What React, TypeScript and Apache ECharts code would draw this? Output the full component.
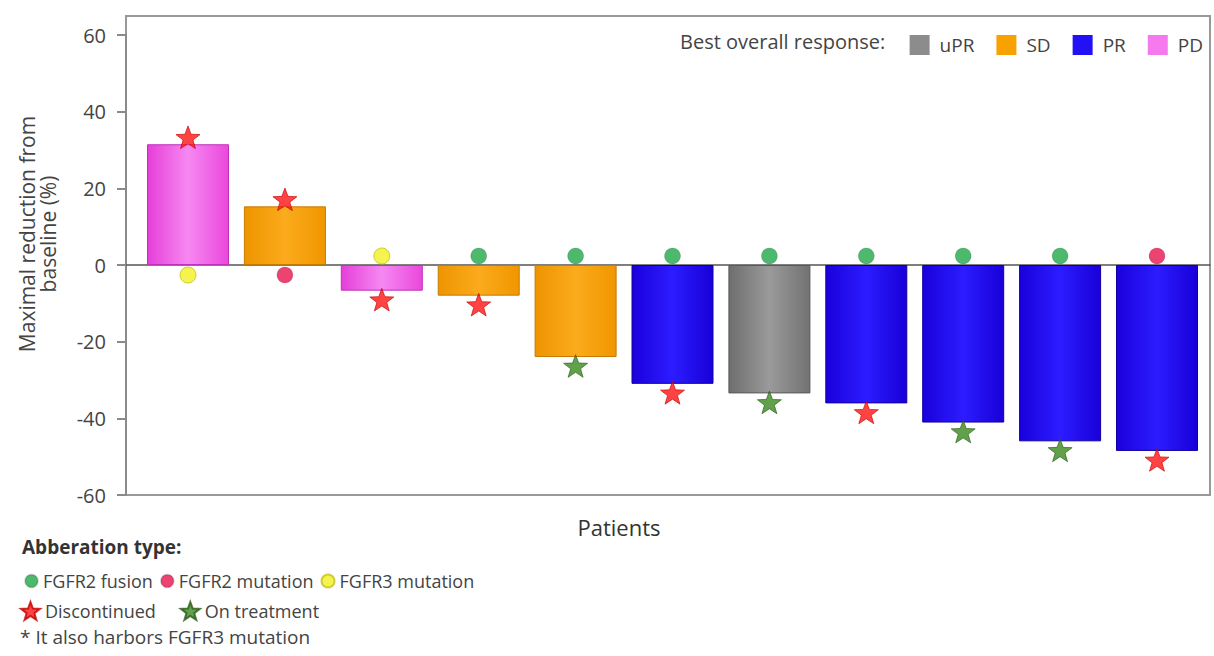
import React, { useEffect, useRef } from "react";
import * as echarts from "echarts";

const patients = ["P1", "P2", "P3", "P4", "P5", "P6", "P7", "P8", "P9", "P10", "P11"];
const reductions = [31.5, 15.3, -6.7, -8.0, -24.0, -31.0, -33.5, -36.1, -41.1, -46.0, -48.5];
const responses = ["PD", "SD", "PD", "SD", "SD", "PR", "uPR", "PR", "PR", "PR", "PR"];
const aberrations = [
  "FGFR3 mutation", "FGFR2 mutation", "FGFR3 mutation", "FGFR2 fusion", "FGFR2 fusion",
  "FGFR2 fusion", "FGFR2 fusion", "FGFR2 fusion", "FGFR2 fusion", "FGFR2 fusion", "FGFR2 mutation",
];
const statuses = [
  "Discontinued", "Discontinued", "Discontinued", "Discontinued", "On treatment",
  "Discontinued", "On treatment", "Discontinued", "On treatment", "On treatment", "Discontinued",
];
const responseNames = ["uPR", "SD", "PR", "PD"];
const aberrationNames = ["FGFR2 fusion", "FGFR2 mutation", "FGFR3 mutation"];
const statusNames = ["Discontinued", "On treatment"];
const yTicks = { min: -60, max: 60, interval: 20 };

const FONT = "'Open Sans', 'Noto Sans', sans-serif";
const STAR =
  "path://M12,0.5 L14.9,8.4 L23.4,8.7 L16.7,13.9 L19.1,22 L12,17.3 L4.9,22 L7.3,13.9 L0.6,8.7 L9.1,8.4 Z";

const responseColors: Record<string, [string, string, string]> = {
  uPR: ["#6e6e6e", "#9a9a9a", "#727272"],
  SD: ["#ee9400", "#fbab1c", "#f09600"],
  PR: ["#1a00dc", "#2c1cff", "#1800d8"],
  PD: ["#e53fd8", "#f688f2", "#ea48dc"],
};
const responseSolid: Record<string, string> = {
  uPR: "#8c8c8c",
  SD: "#f8a200",
  PR: "#2410f4",
  PD: "#f57aee",
};
const responseBorders: Record<string, string> = {
  uPR: "#5a5a5a",
  SD: "#c87a00",
  PR: "#1000a0",
  PD: "#c030b8",
};
const aberrationColors: Record<string, string> = {
  "FGFR2 fusion": "#1fa848",
  "FGFR2 mutation": "#e8144e",
  "FGFR3 mutation": "#f2f020",
};
const statusColors: Record<string, string> = {
  Discontinued: "#ff1414",
  "On treatment": "#3a8a1e",
};

export default function App() {
  const ref = useRef<HTMLDivElement>(null);
  useEffect(() => {
    if (!ref.current) return;
    const chart = echarts.init(ref.current, null, { renderer: "svg" });

    const barSeries = responseNames.map((name) => {
      const c = responseColors[name];
      return {
        name,
        type: "bar",
        barWidth: 82,
        barGap: "-100%",
        z: 2,
        itemStyle: {
          color: new echarts.graphic.LinearGradient(0, 0, 1, 0, [
            { offset: 0, color: c[0] },
            { offset: 0.5, color: c[1] },
            { offset: 1, color: c[2] },
          ]),
          borderColor: responseBorders[name],
          borderWidth: 1,
        },
        data: patients
          .map((_, i) => (responses[i] === name ? [i, reductions[i]] : null))
          .filter((d) => d !== null),
      };
    });

    const circleSeries = aberrationNames.map((name) => ({
      name,
      type: "scatter",
      symbol: "circle",
      symbolSize: 16,
      z: 5,
      itemStyle: {
        color: aberrationColors[name],
        borderColor: name === "FGFR3 mutation" ? "#c8c020" : "rgba(0,0,0,0.15)",
        borderWidth: 1,
      },
      data: patients
        .map((_, i) =>
          aberrations[i] === name
            ? { value: [i, 0], symbolOffset: [0, reductions[i] < 0 ? -9 : 10] }
            : null
        )
        .filter((d) => d !== null),
    }));

    const starSeries = statusNames.map((name) => ({
      name,
      type: "scatter",
      symbol: STAR,
      symbolSize: 24,
      symbolKeepAspect: true,
      z: 6,
      itemStyle: {
        color: statusColors[name],
        borderColor: name === "Discontinued" ? "#c00000" : "#2a5a16",
        borderWidth: 0.8,
      },
      data: patients
        .map((_, i) =>
          statuses[i] === name
            ? { value: [i, reductions[i]], symbolOffset: [0, reductions[i] < 0 ? 9 : -7] }
            : null
        )
        .filter((d) => d !== null),
    }));

    const legendText = { fontSize: 18, color: "#444", fontFamily: FONT };

    chart.setOption({
      animation: false,
      textStyle: { fontFamily: FONT },
      grid: { left: 126, right: 4, top: 35, bottom: 161 },
      xAxis: {
        type: "value",
        min: -0.64,
        max: 10.547,
        axisLine: { show: true, onZero: true, lineStyle: { color: "#555", width: 1.5 } },
        axisTick: { show: false },
        axisLabel: { show: false },
        splitLine: { show: false },
      },
      yAxis: {
        type: "value",
        min: yTicks.min,
        max: yTicks.max,
        interval: yTicks.interval,
        axisLine: { show: true, onZero: false, lineStyle: { color: "#8a8a8a", width: 2 } },
        axisTick: { show: true, length: 9, lineStyle: { color: "#8a8a8a", width: 2 } },
        axisLabel: { fontSize: 20, color: "#444", margin: 20, fontFamily: FONT },
        splitLine: { show: false },
      },
      legend: [
        {
          data: responseNames.map((n) => ({
            name: n,
            itemStyle: { color: responseSolid[n], borderWidth: 0 },
          })),
          right: 6,
          top: 30,
          orient: "horizontal",
          icon: "rect",
          itemWidth: 20,
          itemHeight: 20,
          itemGap: 22,
          textStyle: { ...legendText, fontSize: 19, padding: [0, 0, 0, 5] },
          selectedMode: false,
        },
        {
          data: aberrationNames.map((n) => ({ name: n, icon: "circle" })),
          left: 19,
          top: 567,
          itemWidth: 13,
          itemHeight: 13,
          itemGap: 7,
          textStyle: legendText,
          selectedMode: false,
        },
        {
          data: statusNames.map((n) => ({ name: n, icon: STAR })),
          left: 15,
          top: 596,
          itemWidth: 19,
          itemHeight: 19,
          itemGap: 24,
          textStyle: legendText,
          selectedMode: false,
        },
      ],
      graphic: [
        {
          type: "rect",
          silent: true,
          z: 0,
          shape: { x: 126, y: 16, width: 1084, height: 479 },
          style: { fill: "none", stroke: "#999", lineWidth: 2 },
        },
        {
          type: "text",
          x: 680,
          y: 41,
          style: {
            text: "Best overall response:",
            fontSize: 20,
            fill: "#444",
            fontFamily: FONT,
            textVerticalAlign: "middle",
          },
        },
        {
          type: "text",
          x: 37,
          y: 234,
          rotation: Math.PI / 2,
          style: {
            text: "Maximal reduction from\nbaseline (%)",
            fontSize: 21,
            lineHeight: 21,
            fill: "#444",
            fontFamily: FONT,
            textAlign: "center",
            textVerticalAlign: "middle",
          },
        },
        {
          type: "text",
          x: 619,
          y: 527,
          style: {
            text: "Patients",
            fontSize: 22,
            fill: "#333",
            fontFamily: FONT,
            textAlign: "center",
            textVerticalAlign: "middle",
          },
        },
        {
          type: "text",
          x: 22,
          y: 547,
          style: {
            text: "Abberation type:",
            fontSize: 19,
            fontWeight: "bold",
            fill: "#333",
            fontFamily: FONT,
            textVerticalAlign: "middle",
          },
        },
        {
          type: "text",
          x: 20,
          y: 637,
          style: {
            text: "* It also harbors FGFR3 mutation",
            fontSize: 19,
            fill: "#444",
            fontFamily: FONT,
            textVerticalAlign: "middle",
          },
        },
      ],
      series: [...barSeries, ...circleSeries, ...starSeries],
    });
    return () => chart.dispose();
  }, []);
  return (
    <div
      ref={ref}
      style={{ position: "fixed", left: 0, top: 0, width: 1214, height: 656, background: "#fff" }}
    />
  );
}
